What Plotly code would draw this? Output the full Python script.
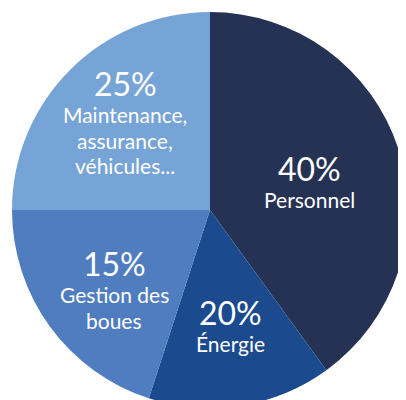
import plotly.graph_objects as go

# Postes de coûts (sens horaire depuis midi)
categories = ['Personnel', 'Énergie', 'Gestion des boues', 'Maintenance, assurance, véhicules...']
shares = [40, 15, 20, 25]          # taille des parts telle que dessinée
pct_labels = ['40%', '20%', '15%', '25%']   # pourcentages affichés
label_lines = [['Personnel'], ['Énergie'], ['Gestion des', 'boues'],
               ['Maintenance,', 'assurance,', 'véhicules...']]
colors = ['#253254', '#1b4a8e', '#4f7dbf', '#77a4d7']

OFF = 8          # marge du body de la page
M = 4
S = 396
W, H = M + S, M + S

# position des étiquettes en pixels écran (centre du %)
label_pos = [(309, 168), (230, 312), (114, 263), (125, 83)]

fig = go.Figure(go.Pie(
    labels=categories,
    values=shares,
    sort=False,
    direction='clockwise',
    rotation=0,
    textinfo='none',
    hoverinfo='label+percent',
    marker=dict(colors=colors, line=dict(width=0)),
    showlegend=False,
))

annotations = []
for (px, py), pct, lines in zip(label_pos, pct_labels, label_lines):
    ox, oy = px - OFF - M, py - OFF - M
    annotations.append(dict(
        x=ox / S, y=1 - oy / S, xref='paper', yref='paper',
        text=pct, showarrow=False, xanchor='center', yanchor='middle',
        font=dict(family='Lato', size=32, color='white')))
    for i, line in enumerate(lines):
        ly = oy + 31 + 26 * i
        annotations.append(dict(
            x=ox / S, y=1 - ly / S, xref='paper', yref='paper',
            text=line, showarrow=False, xanchor='center', yanchor='middle',
            font=dict(family='Lato', size=21, color='white')))

fig.update_layout(
    width=W, height=H,
    margin=dict(l=M, t=M, r=0, b=0),
    paper_bgcolor='white',
    annotations=annotations,
)

fig.write_html("out.html")
